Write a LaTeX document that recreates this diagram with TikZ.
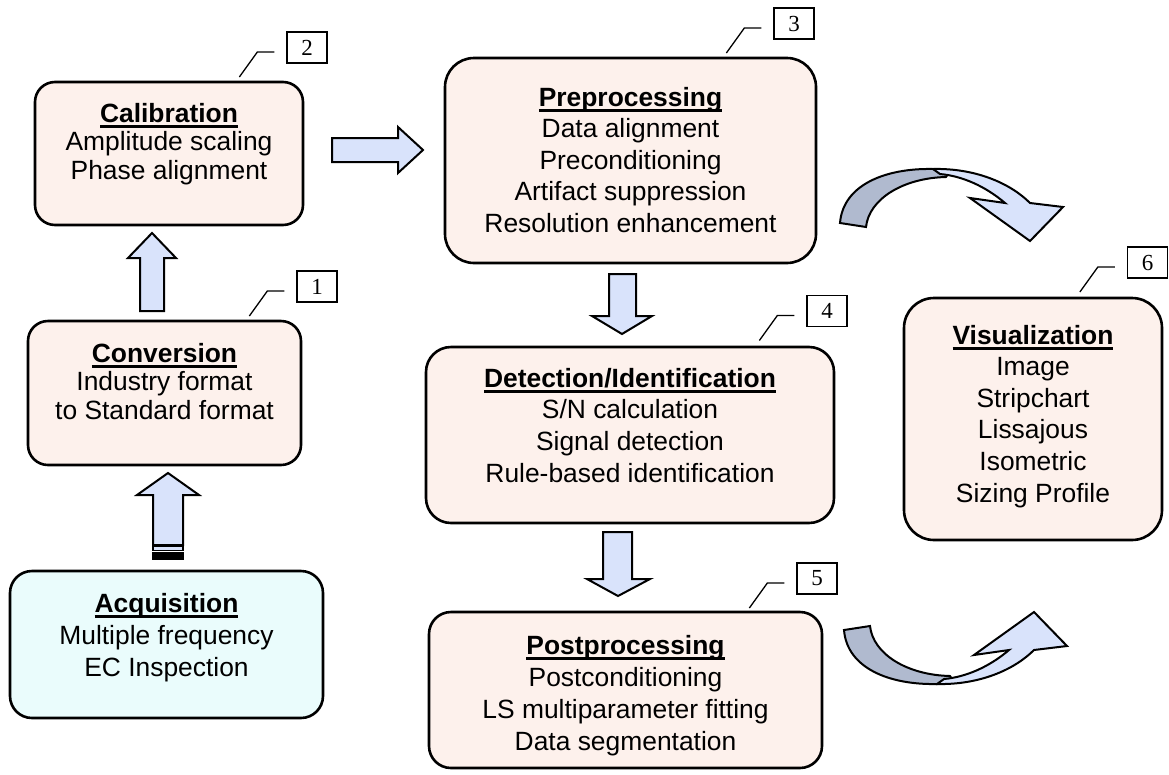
\documentclass[tikz,border=0pt]{standalone}
\usepackage{fontspec}
\setmainfont{Liberation Sans}
\newfontfamily\numfont{Liberation Serif}
\usetikzlibrary{calc}
\definecolor{boxpink}{HTML}{FDF1EC}
\definecolor{boxcyan}{HTML}{EAFCFC}
\definecolor{arrlight}{HTML}{D9E3FB}
\definecolor{arrdark}{HTML}{B0BACF}
\newcommand{\ttl}[1]{\setbox0=\hbox{\textbf{#1}}\leavevmode\rlap{\copy0}\rule[-5.5pt]{\wd0}{2.4pt}}
\tikzset{
  stage/.style={draw=black, line width=2.6pt, fill=boxpink, rectangle},
  stagetext/.style={anchor=north, inner sep=0pt, align=center, font=\fontsize{26.4}{#1}\selectfont},
  numbox/.style={draw=black, line width=1.3pt, minimum width=40pt, minimum height=31pt, inner sep=0pt, font=\numfont\fontsize{23}{23}\selectfont},
  leader/.style={line width=1.3pt},
  blockarrow/.style={draw=black, line width=2pt, fill=arrlight, line join=miter},
  darkarrow/.style={draw=black, line width=2pt, fill=arrdark, line join=miter}
}
\begin{document}
\begin{tikzpicture}[x=1pt, y=-1pt]
\useasboundingbox (0,0) rectangle (1169,774);

% stages
\node[stage, rounded corners=20pt, minimum width=268pt, minimum height=143pt] (cal) at (169,153.5) {};
\node[stagetext=28.5] (calT) at ([yshift=-22pt]cal.north) {\ttl{Calibration}\\Amplitude scaling\\Phase alignment};

\node[stage, rounded corners=20pt, minimum width=273pt, minimum height=144pt] (conv) at (164.5,393) {};
\node[stagetext=28.5] (convT) at ([yshift=-23pt]conv.north) {\ttl{Conversion}\\Industry format\\to Standard format};

\node[stage, fill=boxcyan, rounded corners=22pt, minimum width=313pt, minimum height=147pt] (acq) at (166.5,644.5) {};
\node[stagetext=32] (acqT) at ([yshift=-23pt]acq.north) {\ttl{Acquisition}\\Multiple frequency\\EC Inspection};

\node[stage, rounded corners=29pt, minimum width=371pt, minimum height=205pt] (pre) at (630.5,160.5) {};
\node[stagetext=31.5] (preT) at ([yshift=-30pt]pre.north) {\ttl{Preprocessing}\\Data alignment\\Preconditioning\\Artifact suppression\\Resolution enhancement};

\node[stage, rounded corners=25pt, minimum width=408pt, minimum height=176pt] (det) at (630,435) {};
\node[stagetext=31.7] (detT) at ([yshift=-22pt]det.north) {\ttl{Detection/Identification}\\S/N calculation\\Signal detection\\Rule-based identification};

\node[stage, rounded corners=22pt, minimum width=393pt, minimum height=156pt] (post) at (625.5,690) {};
\node[stagetext=32] (postT) at ([yshift=-24pt]post.north) {\ttl{Postprocessing}\\Postconditioning\\LS multiparameter fitting\\Data segmentation};

\node[stage, rounded corners=30pt, minimum width=258pt, minimum height=242pt] (vis) at (1033,419) {};
\node[stagetext=31.6] (visT) at ([yshift=-28pt]vis.north) {\ttl{Visualization}\\Image\\Stripchart\\Lissajous\\Isometric\\Sizing Profile};

% number labels
\node[numbox] (n1) at (317,286.5) {1};
\node[numbox] (n2) at (307,47.5) {2};
\node[numbox] (n3) at (794,23.5) {3};
\node[numbox] (n4) at (827,311) {4};
\node[numbox] (n5) at (817,578.5) {5};
\node[numbox] (n6) at (1147.5,262.5) {6};
\foreach \n in {n1,n2,n3,n4,n5,n6}{
  \draw[leader] ([xshift=-12pt, yshift=-4.5pt]\n.west) -- ++(-17,0) -- ++(-18,25);
}

% straight block arrows
\draw[blockarrow] (332,138) -- (398,138) -- (398,127) -- (423,150) -- (398,173) -- (398,162) -- (332,162) -- cycle;
\draw[blockarrow] (152,233) -- (176,258) -- (164,258) -- (164,311) -- (140,311) -- (140,258) -- (128,258) -- cycle;
\draw[blockarrow] (168,473) -- (199,495) -- (183,495) -- (183,545) -- (153,545) -- (153,495) -- (137,495) -- cycle;
\draw[blockarrow, line width=1.5pt] (153,546.5) rectangle (183,550.5);
\fill[black] (152,551.5) rectangle (184,560);
\draw[blockarrow] (609,274) -- (636,274) -- (636,316) -- (652,316) -- (622,334) -- (592,316) -- (609,316) -- cycle;
\draw[blockarrow] (603,532) -- (632,532) -- (632,579) -- (650,579) -- (618,596) -- (587,579) -- (603,579) -- cycle;

% curved arrow (top)
\draw[darkarrow] (840,223) .. controls (843,185) and (885,168) .. (933,169)
  .. controls (940,169) and (946,170) .. (950,171) -- (946,177)
  .. controls (903,178) and (869,199) .. (866,227) -- cycle;
\draw[blockarrow] (933,169) .. controls (975,168) and (1010,183) .. (1030,203) -- (1063,207) -- (1030,241) -- (970,198) -- (1005,203)
  .. controls (985,186) and (962,176) .. (940,174) -- cycle;

% curved arrow (bottom)
\draw[darkarrow] (844,630) .. controls (847,668) and (889,685) .. (937,684)
  .. controls (944,684) and (950,683) .. (954,682) -- (950,676)
  .. controls (907,675) and (873,654) .. (870,626) -- cycle;
\draw[blockarrow] (937,684) .. controls (979,685) and (1014,670) .. (1034,650) -- (1067,646) -- (1034,612) -- (974,655) -- (1009,650)
  .. controls (989,667) and (966,677) .. (944,679) -- cycle;
\end{tikzpicture}
\end{document}
